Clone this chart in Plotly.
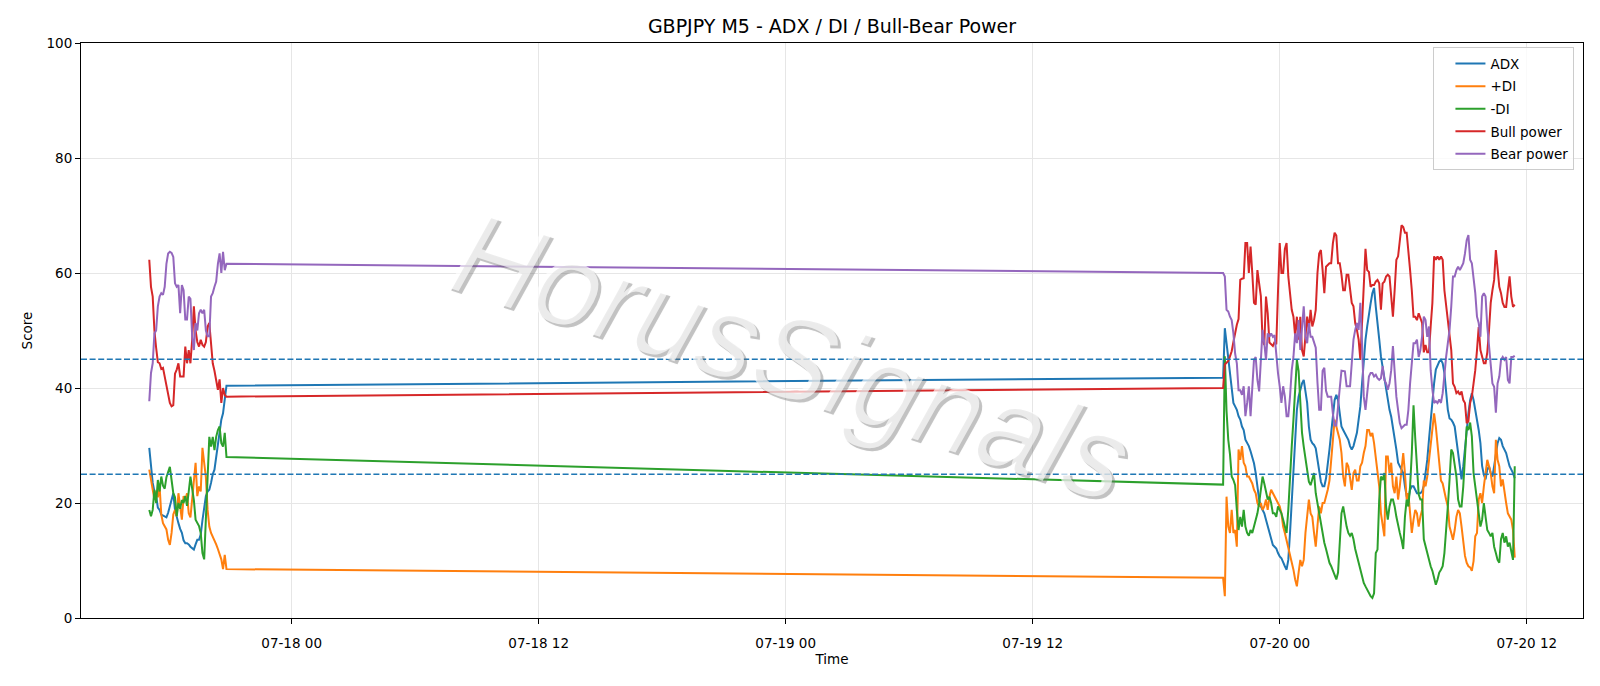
import pandas as pd
import plotly.graph_objects as go

# ---------------- data ----------------
LEFT_START = "2025-07-17 17:05"
RIGHT_START = "2025-07-19 21:15"
BAR = "5min"

adx_left = [29.6, 26.5, 23.5, 22.0, 21.2, 19.2, 18.8, 18.0, 17.8, 17.7, 17.5, 18.3, 19.5, 20.5, 21.7,
            18.8, 17.5, 16.5, 15.5, 14.8, 13.5, 13.0, 13.0, 12.8, 12.4, 12.2, 11.9, 12.8, 13.6, 13.6,
            14.5, 17.0, 18.8, 21.2, 22.0, 22.3, 23.5, 25.0, 25.8, 28.1, 30.0, 32.2, 34.5, 35.6, 38.5, 40.4]
pdi_left = [25.8, 24.0, 22.3, 20.6, 22.0, 21.0, 23.0, 18.0, 16.5, 16.0, 15.4, 13.6, 12.7, 14.8, 18.0,
            18.8, 17.7, 21.7, 19.5, 17.1, 21.2, 20.5, 21.7, 18.2, 17.5, 21.0, 23.5, 27.0, 21.2, 22.9,
            22.0, 29.6, 27.0, 24.5, 18.8, 15.9, 14.8, 14.2, 13.6, 12.8, 12.0, 11.0, 10.2, 8.5, 11.0, 8.5]
mdi_left = [18.8, 17.7, 18.8, 22.3, 20.0, 24.0, 22.0, 24.6, 23.0, 22.5, 24.5, 25.5, 26.3, 24.0, 21.7,
            21.0, 17.7, 20.0, 19.0, 20.5, 20.0, 21.2, 19.5, 22.0, 24.6, 22.5, 20.5, 17.1, 16.5, 16.0,
            14.8, 11.3, 10.2, 17.5, 25.8, 31.5, 29.8, 31.5, 29.2, 31.5, 32.7, 33.3, 30.4, 29.8, 32.2, 28.0]
bull_left = [62.3, 57.6, 55.9, 50.0, 47.0, 44.5, 44.3, 43.3, 43.5, 42.0, 40.6, 38.5, 37.4, 36.8, 37.0,
             42.5, 43.2, 44.3, 42.0, 42.0, 42.0, 47.2, 44.3, 46.6, 44.3, 48.4, 54.2, 50.0, 48.0, 47.2,
             48.4, 47.5, 47.2, 48.0, 50.7, 51.3, 48.0, 44.3, 43.0, 41.5, 39.7, 41.5, 37.4, 40.0, 38.8, 38.5]
bear_left = [37.7, 42.6, 44.3, 49.5, 50.0, 54.2, 55.9, 56.5, 56.2, 57.6, 61.6, 63.4, 63.7, 63.5, 62.8,
             58.2, 57.6, 57.9, 53.0, 57.9, 57.0, 51.9, 51.9, 55.9, 55.5, 49.0, 46.6, 51.3, 50.0, 53.0,
             53.6, 53.0, 53.6, 50.0, 49.0, 49.0, 55.9, 56.5, 57.6, 58.5, 61.6, 63.4, 60.0, 63.7, 60.5, 61.6]

adx_right = [41.8, 50.4, 47.8, 44.9, 42.0, 39.1, 37.4, 36.8, 36.2, 35.1, 34.5, 33.3, 32.7,
             31.0, 30.4, 29.9, 29.0, 28.1, 26.9, 25.2, 22.9, 20.6, 19.4, 18.8, 18.2, 17.1, 16.0, 14.8,
             13.6, 12.7, 12.4, 12.1, 11.3, 10.7, 10.4, 9.6, 9.0, 8.4, 10.1, 14.8, 20.6, 26.4, 32.2,
             36.2, 38.5, 39.6, 40.8, 41.4, 39.6, 37.4, 33.3, 31.0, 30.4, 30.1, 29.5, 27.5, 25.5, 23.7,
             22.9, 22.9, 24.3, 26.4, 29.3, 32.2, 35.6, 37.9, 38.8, 37.9, 35.6, 33.3, 32.7, 32.2, 31.6,
             31.0, 29.9, 29.3, 29.9, 31.0, 32.2, 34.5, 36.8, 40.8, 44.9, 48.4, 50.7, 53.0, 54.7, 56.5,
             57.4, 54.1, 50.7, 48.5, 45.5, 43.5, 41.5, 40.0, 37.9, 36.2, 35.0, 33.3, 31.5, 29.3, 27.0,
             26.4, 25.8, 25.2, 22.9, 21.2, 20.6, 22.3, 22.9, 22.9, 22.3, 21.7, 21.7, 21.7, 22.0,
             23.0, 25.2, 27.5, 31.0, 34.5, 37.9, 40.8, 43.2, 44.0, 44.6, 44.9, 44.3, 42.6, 39.1, 36.2,
             34.7, 34.5, 34.0, 33.3, 31.0, 28.7, 26.4, 24.1, 26.4, 29.9, 33.3, 35.6, 37.9, 39.1, 37.9,
             36.2, 35.0, 32.7, 30.4, 26.4, 24.9, 24.1, 25.8, 26.4, 25.2, 24.6, 26.4, 28.1, 30.4, 31.3,
             31.0, 29.9, 29.3, 28.7, 27.5, 26.4, 25.8, 25.2, 24.3]
pdi_right = [7.0, 3.8, 21.1, 15.9, 14.8, 18.8, 14.8, 15.3, 12.4, 29.3, 27.5, 29.9, 27.0,
             26.4, 24.6, 24.6, 24.0, 23.4, 22.3, 21.7, 20.0, 19.4, 20.0, 18.8, 19.4, 20.6, 18.8, 21.1,
             22.3, 21.7, 21.1, 20.6, 20.0, 19.4, 18.2, 15.9, 14.8, 13.6, 12.4, 10.7, 9.6, 8.4, 6.7,
             5.5, 7.9, 10.1, 9.0, 10.1, 14.8, 17.6, 20.6, 18.2, 17.6, 14.8, 12.4, 16.0, 19.4, 18.2,
             20.0, 20.0, 21.1, 22.3, 23.9, 27.5, 31.0, 34.5, 33.3, 32.2, 31.0, 28.7, 24.6, 22.9, 27.0,
             26.4, 23.9, 22.3, 25.2, 25.8, 23.9, 23.9, 26.4, 27.0, 28.7, 29.9, 32.7, 32.7, 31.6, 32.2,
             30.4, 27.5, 25.2, 22.9, 18.2, 15.9, 14.2, 28.1, 28.1, 25.2, 27.0, 22.9, 21.7, 24.6, 20.6,
             22.9, 26.4, 28.7, 25.2, 20.6, 21.7, 18.2, 14.8, 17.1, 18.8, 18.2, 15.9, 17.6, 18.8,
             23.9, 22.9, 24.6, 27.5, 30.4, 33.3, 35.6, 33.3, 30.4, 27.5, 23.9, 23.4, 21.7, 20.6, 19.4,
             15.9, 14.8, 13.6, 15.3, 17.6, 18.8, 18.2, 15.9, 13.1, 10.8, 9.6, 9.0, 8.8, 8.2, 9.9,
             14.2, 14.8, 20.6, 21.7, 20.0, 22.9, 25.8, 27.5, 26.4, 25.2, 22.9, 21.7, 31.0, 27.5, 26.4,
             22.9, 24.1, 21.7, 20.0, 18.2, 17.6, 17.1, 15.3, 10.5]
mdi_right = [23.2, 45.5, 36.0, 31.0, 28.5, 24.6, 24.0, 23.1, 18.8, 15.3, 17.6, 15.9, 18.8,
             15.9, 14.8, 14.3, 15.3, 14.8, 15.9, 17.1, 18.2, 20.0, 22.3, 24.6, 23.4, 21.7, 20.6, 21.1,
             20.0, 18.2, 18.2, 17.6, 19.4, 18.8, 18.2, 17.1, 15.9, 14.8, 18.8, 25.2, 29.8, 34.5, 40.8,
             44.9, 43.0, 37.0, 32.2, 29.8, 27.5, 25.2, 23.7, 23.1, 24.0, 25.2, 21.7, 20.0, 17.6, 15.9,
             14.3, 13.1, 12.0, 10.8, 9.6, 9.0, 8.2, 7.4, 6.7, 7.9, 12.4, 18.2, 19.4, 17.6, 15.9,
             14.8, 14.3, 14.8, 13.7, 12.0, 10.8, 9.6, 8.4, 7.4, 6.1, 5.5, 4.9, 4.3, 3.8, 3.5,
             4.3, 11.3, 11.9, 20.6, 24.6, 24.0, 25.2, 19.4, 17.1, 19.4, 20.6, 20.6, 19.4, 17.6, 15.9,
             14.8, 13.6, 12.0, 17.6, 20.6, 19.4, 22.9, 28.7, 37.0, 31.3, 26.1, 21.5, 20.6, 20.6,
             13.7, 12.4, 11.3, 10.1, 9.0, 8.2, 6.7, 5.8, 6.7, 7.9, 8.4, 9.0, 11.3, 14.8, 19.4,
             24.0, 29.3, 28.7, 27.0, 24.6, 20.6, 19.4, 19.4, 22.9, 28.1, 33.3, 32.7, 34.0, 31.6, 25.2,
             22.9, 20.6, 18.2, 15.9, 17.1, 20.0, 17.6, 15.3, 14.8, 14.2, 14.8, 12.4, 11.3, 10.1, 9.6,
             13.7, 14.8, 13.1, 14.2, 12.4, 13.1, 11.3, 10.1, 26.4]
bull_right = [40.0, 44.1, 44.5, 44.7, 45.5, 46.4, 48.0, 49.8, 51.0, 52.0, 58.8, 59.0, 59.1,
              65.2, 65.2, 60.0, 64.6, 60.0, 54.8, 54.5, 60.5, 58.2, 56.0, 48.3, 47.5, 55.9, 53.0, 47.9,
              47.6, 47.3, 48.0, 47.6, 56.8, 65.2, 60.0, 60.0, 64.2, 65.2, 59.4, 56.5, 53.6, 52.4, 49.0,
              52.4, 48.4, 52.4, 46.6, 45.5, 48.4, 52.4, 50.1, 53.6, 50.7, 51.8, 53.6, 60.0, 63.4, 64.0,
              60.5, 56.5, 61.1, 61.5, 61.7, 61.7, 65.2, 67.0, 66.5, 61.7, 61.7, 59.7, 57.0, 57.0, 59.7,
              59.7, 57.6, 54.8, 54.2, 51.3, 50.1, 48.4, 44.9, 51.3, 59.4, 64.2, 60.5, 60.2, 57.6, 57.9,
              57.9, 58.5, 58.8, 58.2, 53.6, 58.2, 58.5, 59.4, 59.7, 59.4, 55.9, 52.4, 57.0, 62.3, 62.9,
              66.3, 68.3, 68.0, 67.0, 67.0, 64.2, 60.5, 57.0, 52.4, 52.4, 51.8, 53.0, 52.0, 51.3,
              46.2, 47.5, 46.2, 46.2, 50.7, 54.8, 62.9, 62.3, 62.9, 62.3, 62.9, 62.3, 57.0, 54.1, 51.8,
              49.0, 46.6, 40.8, 40.2, 39.1, 39.4, 38.8, 39.4, 37.9, 37.4, 33.9, 34.2, 37.4, 38.5, 40.8,
              43.1, 46.6, 50.6, 46.6, 45.4, 44.3, 44.3, 46.2, 50.0, 54.8, 57.0, 58.8, 64.0, 60.0, 57.6,
              56.5, 54.8, 54.1, 54.1, 57.0, 59.4, 55.9, 54.1, 54.5]
bear_right = [60.0, 59.4, 53.6, 53.3, 52.4, 51.8, 49.5, 46.0, 44.3, 39.6, 39.6, 38.8, 40.3,
              35.1, 37.4, 40.3, 35.1, 39.6, 44.9, 45.4, 41.4, 39.4, 45.4, 50.1, 47.8, 44.9, 49.5, 48.9,
              49.5, 48.9, 49.2, 45.4, 42.6, 40.3, 37.4, 40.3, 38.5, 35.1, 35.1, 38.5, 43.1, 45.4, 49.5,
              47.8, 51.8, 46.6, 50.7, 54.2, 48.9, 47.8, 51.3, 48.9, 48.9, 47.8, 47.0, 41.0, 36.2, 36.2,
              43.0, 43.5, 39.5, 38.5, 38.5, 38.5, 35.5, 33.5, 33.5, 37.4, 40.0, 43.0, 42.9, 42.9, 40.3,
              40.3, 40.3, 44.3, 48.4, 50.1, 51.3, 50.1, 54.8, 47.8, 38.5, 36.2, 39.7, 42.0, 42.6, 42.6,
              42.0, 42.3, 41.7, 41.4, 41.7, 43.8, 41.4, 40.8, 39.7, 40.8, 43.1, 47.3, 42.9, 38.5, 36.2,
              33.9, 33.0, 33.3, 33.6, 33.6, 36.2, 40.8, 44.3, 47.8, 47.8, 48.4, 45.4, 46.6, 49.0,
              52.4, 51.8, 48.9, 50.7, 43.1, 39.7, 37.4, 37.7, 37.4, 38.0, 37.4, 39.1, 42.6, 45.4, 47.8,
              50.1, 54.2, 59.4, 59.4, 60.5, 61.1, 60.5, 61.1, 61.7, 63.4, 65.7, 66.6, 62.3, 61.7, 59.4,
              56.5, 52.4, 51.3, 48.9, 55.9, 56.5, 55.9, 50.7, 47.8, 44.3, 40.8, 40.2, 35.7, 40.8, 42.0,
              44.9, 45.4, 44.9, 45.4, 41.4, 40.8, 45.4, 45.4, 45.6]

series_names = ["ADX", "+DI", "-DI", "Bull power", "Bear power"]
series_colors = ["#1f77b4", "#ff7f0e", "#2ca02c", "#d62728", "#9467bd"]
levels = [45, 25]
level_color = "#1f77b4"
x_tick_vals = ["2025-07-18 00:00", "2025-07-18 12:00", "2025-07-19 00:00",
               "2025-07-19 12:00", "2025-07-20 00:00", "2025-07-20 12:00"]
x_tick_text = ["07-18 00", "07-18 12", "07-19 00", "07-19 12", "07-20 00", "07-20 12"]
y_tick_vals = [0, 20, 40, 60, 80, 100]
WATERMARK = "HorusSignals"

# ---------------- build ----------------
t_left = pd.date_range(LEFT_START, periods=len(adx_left), freq=BAR)
t_right = pd.date_range(RIGHT_START, periods=len(adx_right), freq=BAR)
times = t_left.append(t_right)

values = [adx_left + adx_right, pdi_left + pdi_right, mdi_left + mdi_right,
          bull_left + bull_right, bear_left + bear_right]

span = times[-1] - times[0]
x_range = [times[0] - 0.05 * span, times[-1] + 0.05 * span]

FONT = "DejaVu Sans"
fig = go.Figure()
for name, color, vals in zip(series_names, series_colors, values):
    fig.add_trace(go.Scatter(x=times, y=vals, mode="lines", name=name,
                             legendgroup=name,
                             line=dict(color=color, width=2)))

for lv in levels:
    fig.add_shape(type="line", xref="paper", x0=0, x1=1, yref="y", y0=lv, y1=lv,
                  line=dict(color=level_color, width=1.3, dash="6px,2.6px"), layer="above")

# watermark: soft grey drop shadow + translucent white face
wm_common = dict(text=WATERMARK, xref="paper", yref="paper", x=0.473, y=0.455,
                 showarrow=False, textangle=18, xanchor="center", yanchor="middle")
fig.add_annotation(**wm_common, xshift=3, yshift=-3,
                   font=dict(family="Liberation Sans", size=118, style="italic",
                             color="rgba(110,110,110,0.33)",
                             shadow="0px 0px 1px rgba(110,110,110,0.4)"))
fig.add_annotation(**wm_common,
                   font=dict(family="Liberation Sans", size=118, style="italic",
                             color="rgba(255,255,255,0.68)"))

axis_common = dict(showline=True, linecolor="black", linewidth=1, mirror=True,
                   ticks="outside", ticklen=5, tickwidth=1, tickcolor="black",
                   showgrid=True, gridcolor="#e6e6e6", gridwidth=1, zeroline=False,
                   tickfont=dict(family=FONT, size=13.5, color="black"))

fig.update_layout(
    width=1600, height=686,
    margin=dict(l=81, r=17, t=43, b=68),
    paper_bgcolor="white", plot_bgcolor="white",
    font=dict(family=FONT, size=13.5, color="black"),
    title=dict(text="GBPJPY M5 - ADX / DI / Bull-Bear Power", x=0.5, xref="paper",
               xanchor="center", y=1 - 26.5 / 686, yref="container", yanchor="middle",
               font=dict(family=FONT, size=19, color="black")),
    xaxis=dict(axis_common, range=x_range, tickvals=x_tick_vals, ticktext=x_tick_text,
               ticklabelstandoff=8,
               title=dict(text="Time", standoff=0, font=dict(family=FONT, size=13.5))),
    yaxis=dict(axis_common, range=[0, 100], tickvals=y_tick_vals,
               title=dict(text="Score", standoff=10, font=dict(family=FONT, size=13.5))),
    legend=dict(x=0.9943, y=0.9925, xanchor="right", yanchor="top",
                bgcolor="rgba(255,255,255,0.8)", bordercolor="#cccccc", borderwidth=1,
                font=dict(family=FONT, size=13.5, color="black"), tracegroupgap=2,
                itemwidth=30, indentation=16),
    showlegend=True,
)

fig.write_html("out.html")
